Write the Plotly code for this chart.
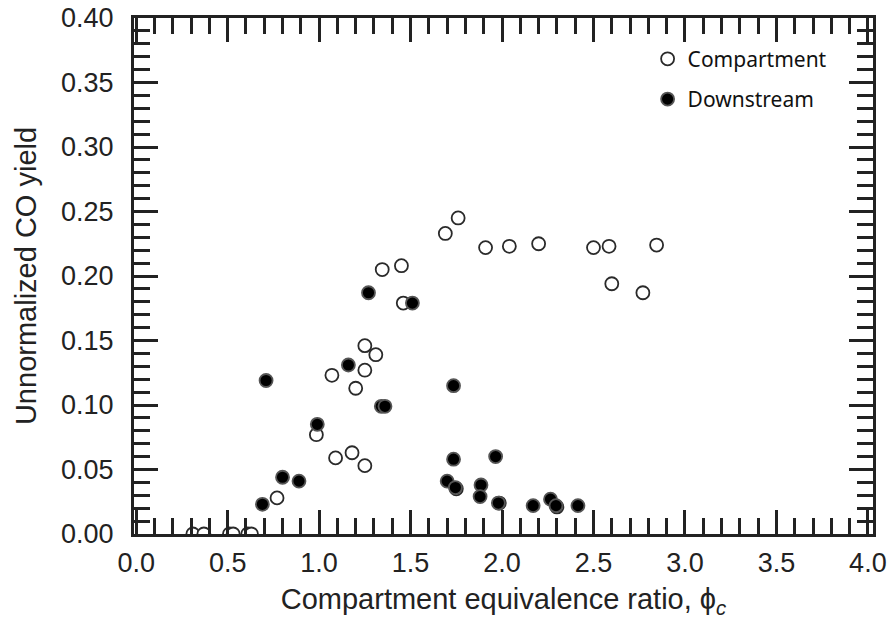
import plotly.graph_objects as go

# Compartment (open circles)
comp_x = [0.31, 0.37, 0.51, 0.53, 0.61, 0.63, 0.77, 0.985, 1.07, 1.09, 1.18, 1.20, 1.25, 1.25, 1.25,
          1.31, 1.345, 1.45, 1.46, 1.69, 1.76, 1.75, 1.91, 1.985, 2.04, 2.20, 2.30, 2.50, 2.585,
          2.60, 2.77, 2.845]
comp_y = [0.0, 0.0, 0.0, 0.0, 0.0, 0.0, 0.028, 0.077, 0.123, 0.059, 0.063, 0.113, 0.053, 0.127, 0.146,
          0.139, 0.205, 0.208, 0.179, 0.233, 0.245, 0.035, 0.222, 0.024, 0.223, 0.225, 0.021, 0.222, 0.223,
          0.194, 0.187, 0.224]

# Downstream (filled circles)
down_x = [0.69, 0.71, 0.80, 0.89, 0.99, 1.16, 1.27, 1.34, 1.36, 1.51, 1.70, 1.735, 1.735, 1.745,
          1.885, 1.88, 1.965, 1.98, 2.17, 2.265, 2.295, 2.415]
down_y = [0.023, 0.119, 0.044, 0.041, 0.085, 0.131, 0.187, 0.099, 0.099, 0.179, 0.041, 0.115, 0.058, 0.036,
          0.038, 0.029, 0.060, 0.024, 0.022, 0.027, 0.022, 0.022]

x_ticks = [0.0, 0.5, 1.0, 1.5, 2.0, 2.5, 3.0, 3.5, 4.0]
y_ticks = [0.00, 0.05, 0.10, 0.15, 0.20, 0.25, 0.30, 0.35, 0.40]

fig = go.Figure()
fig.add_trace(go.Scatter(
    x=comp_x, y=comp_y, mode="markers", name="Compartment",
    marker=dict(symbol="circle", size=13, color="white", line=dict(color="#2a2a2a", width=1.8)),
    legendgroup="a",
))
fig.add_trace(go.Scatter(
    x=down_x, y=down_y, mode="markers", name="Downstream",
    marker=dict(symbol="circle", size=13, color="black", line=dict(color="#555555", width=1.8)),
    legendgroup="b",
))

axis_font = dict(family="Liberation Sans, Arial, sans-serif", size=27, color="#222")
title_font = dict(family="Liberation Sans, Arial, sans-serif", size=29, color="#222")

fig.update_xaxes(
    range=[-0.012, 4.028], tickvals=x_ticks, ticktext=[f"{v:.1f}" for v in x_ticks],
    ticks="inside", ticklen=24, tickwidth=2.5, tickcolor="#222",
    minor=dict(dtick=0.1, ticks="inside", ticklen=16, tickwidth=2.5, tickcolor="#222", showgrid=False),
    showline=True, linewidth=3, linecolor="#222", mirror="ticks",
    showgrid=False, zeroline=False, tickfont=axis_font, ticklabelstandoff=3,
    title=dict(text="Compartment equivalence ratio, ϕ<sub><i>c</i></sub>", font=title_font, standoff=12),
)
fig.update_yaxes(
    range=[0, 0.40], tickvals=y_ticks, ticktext=[f"{v:.2f}" for v in y_ticks],
    ticks="inside", ticklen=24, tickwidth=2.5, tickcolor="#222",
    minor=dict(dtick=0.01, ticks="inside", ticklen=16, tickwidth=2.5, tickcolor="#222", showgrid=False),
    showline=True, linewidth=3, linecolor="#222", mirror="ticks",
    showgrid=False, zeroline=False, tickfont=axis_font, ticklabelstandoff=12,
    title=dict(text="Unnormalized CO yield", font=title_font, standoff=16),
)

fig.update_layout(
    width=891, height=630,
    margin=dict(l=134, r=18, t=18, b=96, autoexpand=False),
    plot_bgcolor="white", paper_bgcolor="white",
    legend=dict(
        x=0.695, y=0.96, xanchor="left", yanchor="top",
        font=dict(family="Noto Sans, Open Sans, sans-serif", size=21, color="#111"),
        bgcolor="rgba(0,0,0,0)", tracegroupgap=10, traceorder="grouped",
    ),
    showlegend=True,
)

fig.write_html("out.html")
